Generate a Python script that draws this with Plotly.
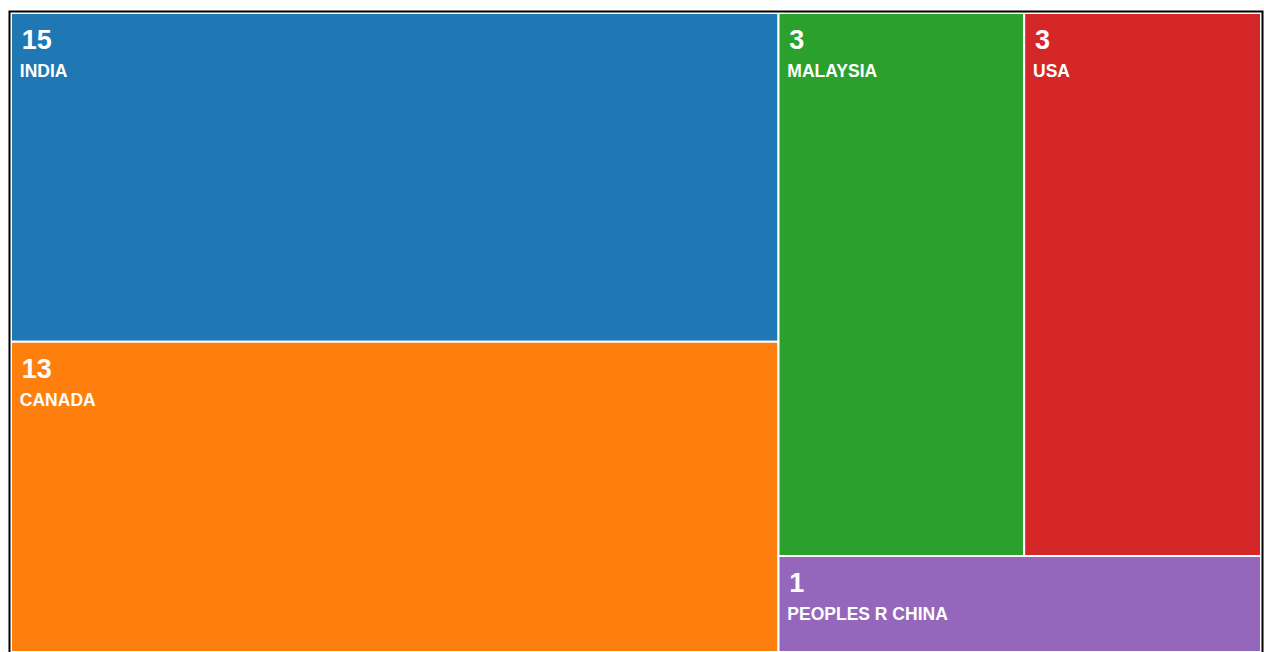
import plotly.graph_objects as go

# Data
countries = ["INDIA", "CANADA", "MALAYSIA", "USA", "PEOPLES R CHINA"]
counts = [15, 13, 3, 3, 1]
# Relative tile sizes estimated from the tile areas in the picture
tile_sizes = [31.6, 29.8, 16.7, 16.1, 5.8]
colors = ["#1f77b4", "#ff7f0e", "#2ca02c", "#d62728", "#9467bd"]

W, H = 1264, 652
ml, mr, mt, mb = 11, 3, 13, 0

pre1 = "<span style='font-size:14px'>\u00a0\u00a0</span>"
pre2 = "<span style='font-size:10.5px'>\u00a0\u00a0</span>"
spacer = "<span style='font-size:36px'>\u00a0</span>"
template = (pre1 + "<b><span style='font-size:27px'>%{customdata}</span></b>" + spacer + "<br>"
            + pre2 + "<b><span style='font-size:17.5px'>%{label}</span></b>")

fig = go.Figure(go.Treemap(
    labels=countries,
    parents=[""] * len(countries),
    values=tile_sizes,
    customdata=counts,
    marker=dict(colors=colors, line=dict(color="white", width=2),
                pad=dict(t=0, l=0, r=0, b=0)),
    texttemplate=template,
    textposition="top left",
    textfont=dict(family="Liberation Sans, Arial, sans-serif", size=21.5, color="white"),
    tiling=dict(packing="squarify", squarifyratio=1.618, pad=0),
    pathbar=dict(visible=False),
    hoverinfo="label",
    sort=True,
))

pw = W - ml - mr
ph = H - mt - mb
xl = (9.5 - ml) / pw
xr = (1262.5 - ml) / pw
yt = 1 + (mt - 11.5) / ph
fig.add_shape(type="path", xref="paper", yref="paper",
              path=f"M {xl},-0.1 L {xl},{yt} L {xr},{yt} L {xr},-0.1",
              line=dict(color="black", width=2))

fig.update_layout(
    width=W, height=H,
    margin=dict(l=ml, r=mr, t=mt, b=mb),
    paper_bgcolor="white",
)

fig.write_html("out.html",
               config={"displayModeBar": False},
               post_script="document.body.style.margin='0';document.body.style.overflow='hidden';")
